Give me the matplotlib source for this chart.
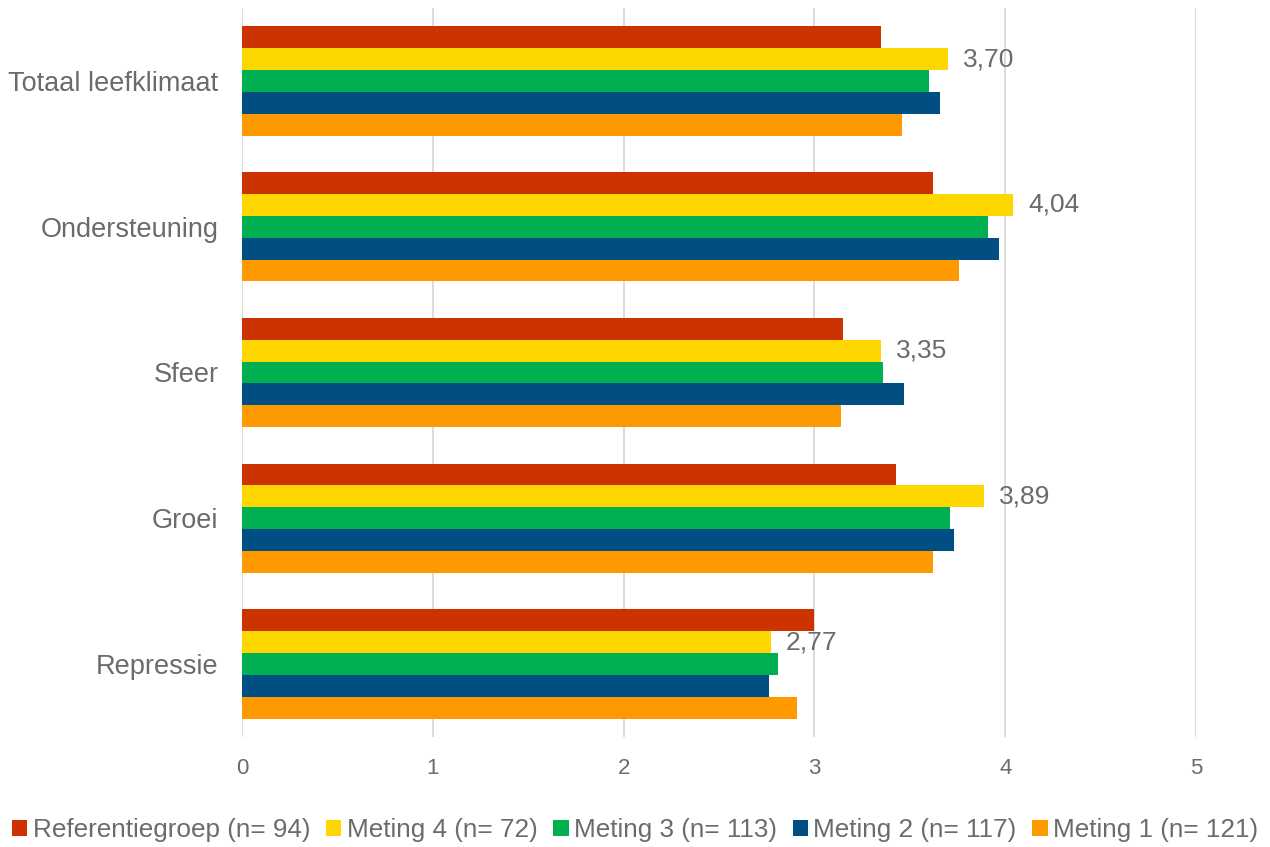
import numpy as np
import matplotlib.pyplot as plt

plt.rcParams['font.family'] = ['Liberation Sans', 'DejaVu Sans']

# data
categories = ["Totaal leefklimaat", "Ondersteuning", "Sfeer", "Groei", "Repressie"]
series = ["Referentiegroep (n= 94)", "Meting 4 (n= 72)", "Meting 3 (n= 113)",
          "Meting 2 (n= 117)", "Meting 1 (n= 121)"]
referentie = [3.35, 3.62, 3.15, 3.43, 3.00]
meting4 = [3.70, 4.04, 3.35, 3.89, 2.77]
meting3 = [3.60, 3.91, 3.36, 3.71, 2.81]
meting2 = [3.66, 3.97, 3.47, 3.73, 2.76]
meting1 = [3.46, 3.76, 3.14, 3.62, 2.91]
colors = ["#CC3300", "#FFD700", "#00B050", "#004E82", "#FF9900"]

values = [referentie, meting4, meting3, meting2, meting1]
text_col = "#6B6B6B"

fig = plt.figure(figsize=(12.7, 8.47), dpi=100)
ax = fig.add_axes([242 / 1270, 1 - 737 / 847, (1196 - 242) / 1270, (737 - 8) / 847])

y = np.arange(len(categories))
h = 0.15
for i, (vals, name, c) in enumerate(zip(values, series, colors)):
    pos = y - 2 * h + i * h
    bars = ax.barh(pos, vals, height=h, color=c, label=name, zorder=3)
    if i == 1:
        for b, v in zip(bars, vals):
            ax.text(v + 0.08, b.get_y() + h / 2, f"{v:.2f}".replace(".", ","),
                    va="center", ha="left", fontsize=19, color=text_col, zorder=4)

ax.set_xlim(0, 5)
ax.set_ylim(len(categories) - 0.5, -0.5)
ax.set_yticks(y)
ax.set_yticklabels(categories, fontsize=19.5, color=text_col)
ax.set_xticks(range(6))
ax.set_xticklabels([str(t) for t in range(6)], fontsize=16, color=text_col)
ax.tick_params(length=0)
ax.tick_params(axis="x", pad=15)
ax.tick_params(axis="y", pad=17)
for s in ax.spines.values():
    s.set_visible(False)
ax.grid(axis="x", color="#D9D9D9", lw=1.3, zorder=0)

handles, labels = ax.get_legend_handles_labels()
fig.legend(handles, labels, loc="center", bbox_to_anchor=(0.5, 1 - 830 / 847), ncol=5,
           frameon=False, fontsize=18.8, labelcolor=text_col, handlelength=0.6,
           handleheight=0.6, handletextpad=0.2, columnspacing=0.6, borderaxespad=0)

fig.savefig("out.png", dpi=100)
